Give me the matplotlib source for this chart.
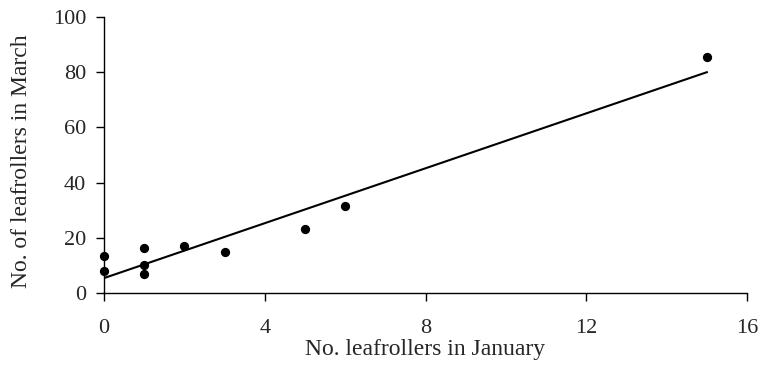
import matplotlib
matplotlib.use("Agg")
import matplotlib.pyplot as plt

jan = [0, 0, 1, 1, 1, 2, 3, 5, 6, 15]
march = [13.4, 8.1, 16.2, 10.1, 6.9, 17.0, 14.9, 23.3, 31.4, 85.4]
fit_x = [0, 15]
fit_y = [5.4, 80.0]
x_ticks = [0, 4, 8, 12, 16]
y_ticks = [0, 20, 40, 60, 80, 100]

plt.rcParams['font.family'] = ['Liberation Serif', 'DejaVu Serif']
text_color = '#262626'

fig = plt.figure(figsize=(7.64, 3.69), dpi=100)
ax = fig.add_axes([104 / 764, 76 / 369, 643 / 764, 276 / 369])
ax.plot(fit_x, fit_y, color='black', lw=1.5, zorder=2)
ax.scatter(jan, march, s=32, color='black', zorder=3, clip_on=False)
ax.set_xlim(0, 16)
ax.set_ylim(0, 100)
ax.set_xticks(x_ticks)
ax.set_yticks(y_ticks)
for s in ['top', 'right']:
    ax.spines[s].set_visible(False)
for s in ['left', 'bottom']:
    ax.spines[s].set_linewidth(1.0)
ax.tick_params(direction='out', length=5.8, width=1.0, labelsize=16,
               color='black', labelcolor=text_color)
ax.tick_params(axis='x', pad=13)
ax.tick_params(axis='y', pad=7)
ax.set_xlabel('No. leafrollers in January', fontsize=17, labelpad=1, color=text_color)
ax.set_ylabel('No. of leafrollers in March', fontsize=17, color=text_color)
ax.yaxis.set_label_coords(-0.112, 0.478)
fig.savefig('out.png', dpi=100)
